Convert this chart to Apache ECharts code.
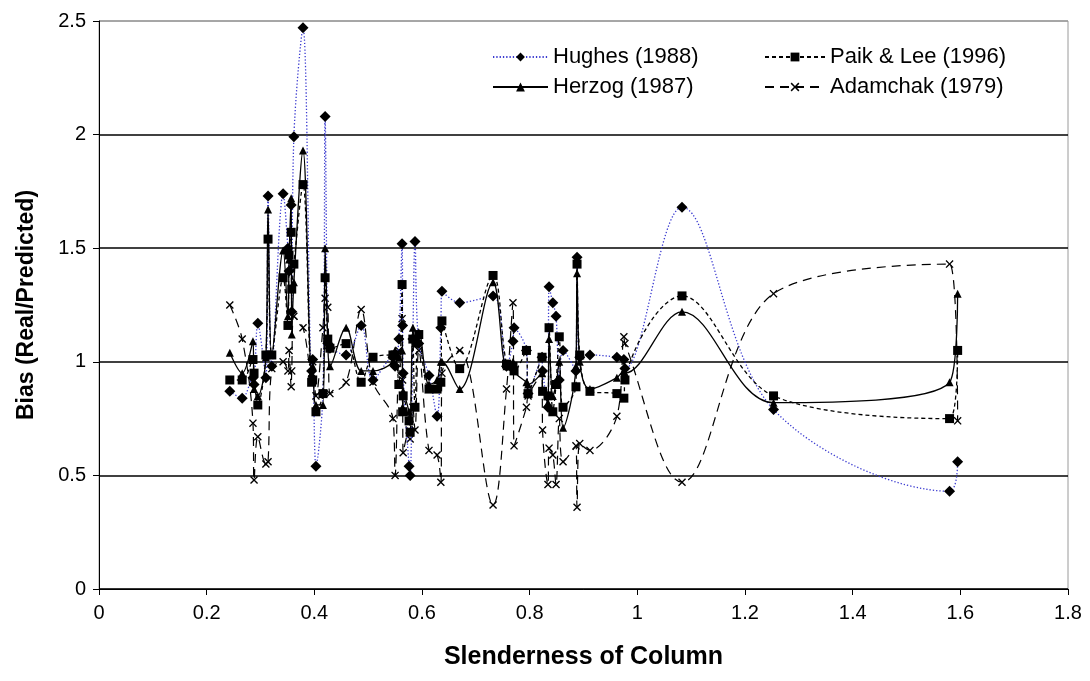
<!DOCTYPE html>
<html>
<head>
<meta charset="utf-8">
<script src="https://cdn.jsdelivr.net/npm/echarts@6/dist/echarts.min.js"></script>
<style>
html,body{margin:0;padding:0;background:#fff;}
#chart{width:1090px;height:681px;}
</style>
</head>
<body>
<div id="chart"></div>
<script>
// Shared slenderness values (one per column specimen)
const xValues = [0.243,0.266,0.286,0.288,0.295,0.310,0.314,0.321,0.342,0.351,
  0.353,0.357,0.358,0.362,0.379,0.395,0.397,0.403,0.416,0.420,
  0.425,0.429,0.459,0.487,0.509,0.546,0.550,0.557,0.563,0.564,
  0.565,0.576,0.578,0.583,0.587,0.594,0.613,0.628,0.635,0.637,
  0.670,0.732,0.757,0.769,0.771,0.794,0.797,0.823,0.824,0.834,
  0.836,0.843,0.849,0.855,0.862,0.886,0.888,0.893,0.912,0.962,
  0.975,0.977,1.083,1.253,1.580,1.595];
const hughes = [0.87,0.84,0.93,0.90,1.17,0.93,1.73,0.98,1.74,1.50,
  1.40,1.69,1.22,1.99,2.47,0.96,1.01,0.54,0.86,2.08,
  1.08,1.06,1.03,1.16,0.92,1.02,0.98,1.10,1.52,1.16,
  0.95,0.54,0.50,1.10,1.53,1.08,0.94,0.76,1.15,1.31,
  1.26,1.29,0.98,1.09,1.15,1.05,0.86,1.02,0.96,0.80,
  1.33,1.26,1.20,0.92,1.05,0.96,1.46,1.02,1.03,1.02,
  1.01,0.97,1.68,0.79,0.43,0.56];
const herzog = [1.04,0.95,1.09,0.88,0.85,1.02,1.67,1.03,1.49,1.20,
  1.45,1.72,1.12,1.35,1.93,0.95,0.98,0.81,0.81,1.50,
  1.10,0.98,1.15,0.96,0.96,1.00,1.05,1.02,1.05,0.80,
  0.87,0.78,0.75,1.15,1.08,1.13,0.90,0.92,1.00,1.00,
  0.88,1.35,0.98,1.00,0.96,0.91,0.90,0.95,0.88,0.82,
  1.10,0.85,0.90,1.00,0.71,0.98,1.39,1.00,0.88,0.93,
  0.96,0.95,1.22,0.82,0.91,1.30];
const paikLee = [0.92,0.92,1.01,0.95,0.81,1.03,1.54,1.03,1.37,1.16,
  1.47,1.57,1.32,1.43,1.78,0.91,0.92,0.78,0.86,1.37,
  1.10,1.06,1.08,0.91,1.02,1.03,1.03,0.90,1.34,0.78,
  0.85,0.74,0.69,1.10,0.80,1.12,0.88,0.88,0.91,1.18,
  0.97,1.38,0.99,0.98,0.96,1.05,0.86,1.02,0.87,0.85,
  1.15,0.78,0.90,1.11,0.80,0.89,1.43,1.03,0.87,0.86,
  0.84,0.92,1.29,0.85,0.75,1.05];
const adamchak = [1.25,1.10,0.73,0.48,0.67,0.55,0.56,0.97,1.00,0.96,
  1.05,0.89,0.96,1.20,1.15,0.95,1.00,0.85,1.15,1.28,
  1.24,0.86,0.91,1.23,0.91,0.75,0.50,1.05,1.19,0.92,
  0.60,0.70,0.66,0.80,0.70,1.05,0.61,0.59,0.47,0.95,
  1.05,0.37,0.88,1.26,0.63,0.80,0.85,0.95,0.70,0.46,
  0.62,0.59,0.46,0.75,0.56,0.63,0.36,0.64,0.61,0.76,
  1.11,1.08,0.47,1.30,1.43,0.74];
const seriesNames = ['Hughes (1988)','Herzog (1987)','Paik & Lee (1996)','Adamchak (1979)'];
const xTicks = {min:0, max:1.8, interval:0.2};
const yTicks = {min:0, max:2.5, interval:0.5};

const FONT = 'Liberation Sans, Arial, sans-serif';
const xMark = 'path://M0,1.2L1.2,0L5,3.8L8.8,0L10,1.2L6.2,5L10,8.8L8.8,10L5,6.2L1.2,10L0,8.8L3.8,5Z';
const pair = ys => xValues.map((x,i)=>[x, ys[i]]);
const SM = 0.35;

const chart = echarts.init(document.getElementById('chart'), null, {renderer:'canvas'});
chart.setOption({
  animation:false,
  backgroundColor:'#fff',
  grid:{left:99,right:22,top:21,bottom:92,show:true,borderColor:'#9a9a9a',borderWidth:1,backgroundColor:'transparent'},
  legend:[
    {orient:'vertical',left:487,top:39,itemWidth:55,itemHeight:11,itemGap:4,
     data:[seriesNames[0],seriesNames[1]],
     textStyle:{fontFamily:FONT,fontSize:22,color:'#000',lineHeight:26}},
    {orient:'vertical',left:759,top:39,itemWidth:60,itemHeight:11,itemGap:4,
     data:[seriesNames[2],seriesNames[3]],
     textStyle:{fontFamily:FONT,fontSize:22,color:'#000',lineHeight:26}}
  ],
  xAxis:{type:'value',min:xTicks.min,max:xTicks.max,interval:xTicks.interval,
    name:'Slenderness of Column',nameLocation:'middle',nameGap:56,
    nameTextStyle:{fontFamily:FONT,fontSize:25,fontWeight:'bold',color:'#000'},
    axisLine:{onZero:false,lineStyle:{color:'#000',width:1}},
    axisTick:{show:true,length:6,lineStyle:{color:'#000'}},
    axisLabel:{fontFamily:FONT,fontSize:20,color:'#000',margin:14,
      formatter:v=>String(Math.round(v*10)/10)},
    splitLine:{show:false}},
  yAxis:{type:'value',min:yTicks.min,max:yTicks.max,interval:yTicks.interval,
    name:'Bias (Real/Predicted)',nameLocation:'middle',nameGap:61,nameRotate:90,
    nameTextStyle:{fontFamily:FONT,fontSize:23,fontWeight:'bold',color:'#000'},
    axisLine:{show:true,onZero:false,lineStyle:{color:'#000',width:1}},
    axisTick:{show:true,length:6,lineStyle:{color:'#000'}},
    axisLabel:{fontFamily:FONT,fontSize:20,color:'#000',margin:13,
      formatter:v=>String(Math.round(v*10)/10)},
    splitLine:{show:true,lineStyle:{color:['#000','#000','#000','#000','#000','#9a9a9a'],width:1.5}}},
  series:[
    {name:seriesNames[0],type:'line',data:pair(hughes),smooth:SM,
     symbol:'diamond',symbolSize:11,showAllSymbol:true,
     itemStyle:{color:'#000'},
     lineStyle:{color:'#3a3ad0',width:1.3,type:[1.3,2]},z:2},
    {name:seriesNames[1],type:'line',data:pair(herzog),smooth:SM,
     symbol:'triangle',symbolSize:8,showAllSymbol:true,
     itemStyle:{color:'#000'},
     lineStyle:{color:'#000',width:1.3,type:'solid'},z:3},
    {name:seriesNames[2],type:'line',data:pair(paikLee),smooth:SM,
     symbol:'rect',symbolSize:9,showAllSymbol:true,
     itemStyle:{color:'#000'},
     lineStyle:{color:'#000',width:1.3,type:[4,3]},z:4},
    {name:seriesNames[3],type:'line',data:pair(adamchak),smooth:SM,
     symbol:xMark,symbolSize:8,showAllSymbol:true,
     itemStyle:{color:'#000'},
     lineStyle:{color:'#000',width:1.2,type:[9,6]},z:1}
  ]
});
</script>
</body>
</html>
